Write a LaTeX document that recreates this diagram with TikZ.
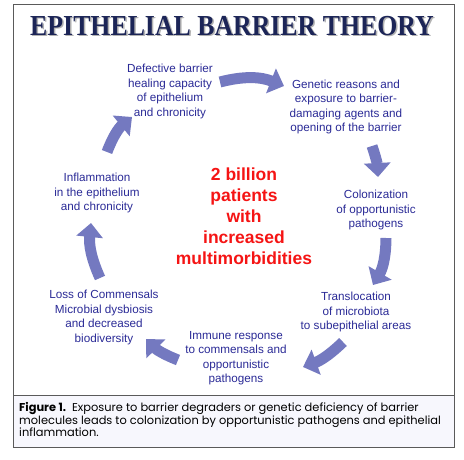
\documentclass[tikz,border=0pt]{standalone}
\usepackage{fontspec}
\setmainfont{Liberation Sans}
\newfontfamily\titlefont{Liberation Serif}
\newfontfamily\capfont{Poppins}
\usetikzlibrary{arrows.meta}

\begin{document}
\begin{tikzpicture}[x=1pt, y=-1pt]
    % Define colours
    \definecolor{frameColour}{HTML}{5A5A5A}
    \definecolor{captionFill}{HTML}{F7F7FD}
    \definecolor{titleColour}{HTML}{1C2557}
    \definecolor{stageColour}{HTML}{2A2A96}
    \definecolor{arrowColour}{HTML}{7479C0}
    \definecolor{centreColour}{HTML}{F51414}

    \tikzset{
        stage/.style={text=stageColour, align=center, inner sep=0pt,
            font=\fontsize{11.7}{14.4}\selectfont},
        cycarrow/.style={draw=arrowColour, line width=11pt,
            -{Triangle[width=26pt,length=14pt]}}
    }

    % Fix the page size
    \useasboundingbox (0,0) rectangle (464,460);

    % Draw frame and caption box
    \draw[frameColour, line width=1pt] (13,5) rectangle (454,395);
    \draw[frameColour, line width=1pt, fill=captionFill] (13,395) rectangle (454,447);

    % Title with its shadow
    \def\titleText{\titlefont\bfseries\fontsize{29}{30}\selectfont
        \scalebox{0.89}[1]{EPITHELIAL BARRIER THEORY}}
    \node (shadow) [text=gray!60] at (233.5,27.5) {\titleText};
    \node (title) [text=titleColour] at (232,26) {\titleText};

    % Stages of the cycle
    \node (defective) [stage] at (170,91.5) {Defective barrier\\healing capacity\\of epithelium\\and chronicity};
    \node (genetic) [stage] at (346,107) {Genetic reasons and\\exposure to barrier-\\damaging agents and\\opening of the barrier};
    \node (colonization) [stage] at (376,210) {Colonization\\of opportunistic\\pathogens};
    \node (translocation) [stage] at (356,312) {Translocation\\of microbiota\\to subepithelial areas};
    \node (immune) [stage] at (236,358) {Immune response\\to commensals and\\opportunistic\\pathogens};
    \node (loss) [stage] at (104,317.5) {Loss of Commensals\\Microbial dysbiosis\\and decreased\\biodiversity};
    \node (inflammation) [stage] at (97,193) {Inflammation\\in the epithelium\\and chronicity};

    % Centre text
    \node (patients) [text=centreColour, align=center, inner sep=0pt,
        font=\bfseries\fontsize{17.5}{21}\selectfont] at (244,216.5)
        {2 billion\\patients\\with\\increased\\multimorbidities};

    % Arrow ends (t = tail, h = head)
    \coordinate (t1) at (220,82);  \coordinate (h1) at (284,86);
    \coordinate (t2) at (372,146); \coordinate (h2) at (378,177);
    \coordinate (t3) at (386,238); \coordinate (h3) at (373,285);
    \coordinate (t4) at (343,342); \coordinate (h4) at (303,367);
    \coordinate (t5) at (178,360); \coordinate (h5) at (146,339);
    \coordinate (t6) at (100,278); \coordinate (h6) at (91,223);
    \coordinate (t7) at (107,152); \coordinate (h7) at (132,117);

    % Draw the cycle arrows
    \foreach \i/\b in {1/18, 2/8, 3/15, 4/12, 5/12, 6/15, 7/15}
        \draw[cycarrow] (t\i) to[bend left=\b] (h\i);

    % Caption
    \node (caption) [anchor=west, align=left, inner sep=0pt,
        font=\capfont\fontsize{11.4}{12.7}\selectfont] at (19,419.5)
        {\textbf{Figure 1.}\ \ Exposure to barrier degraders or genetic deficiency of barrier\\
         molecules leads to colonization by opportunistic pathogens and epithelial\\
         inflammation.};

\end{tikzpicture}
\end{document}
